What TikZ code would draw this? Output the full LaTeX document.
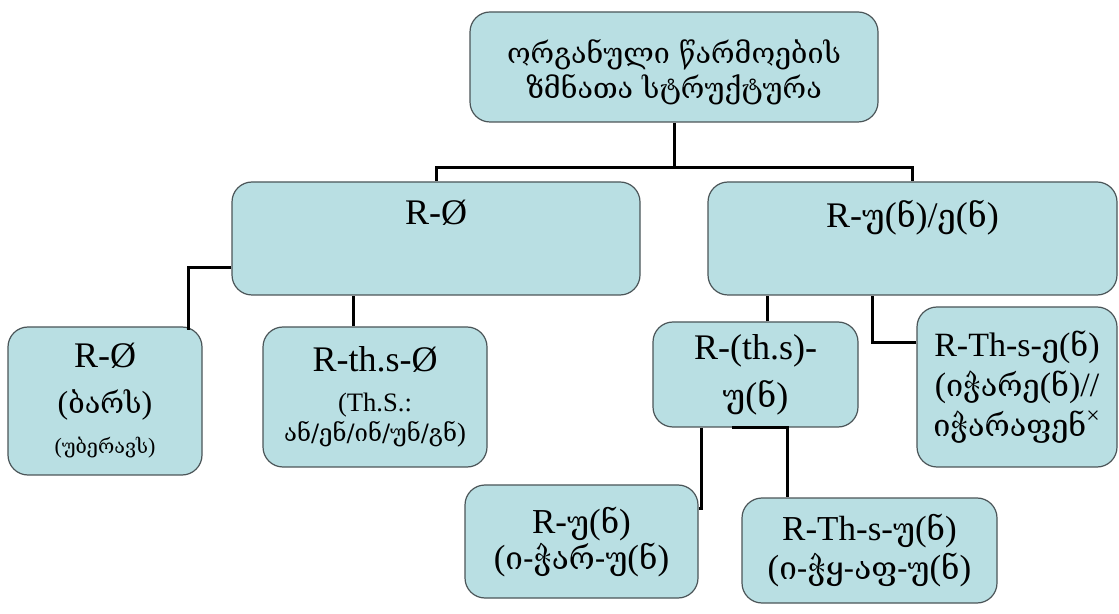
\documentclass[tikz,border=0pt]{standalone}
\usepackage{fontspec}
\setmainfont{Liberation Serif}
\newfontfamily\geofont[Scale=0.9]{DejaVu Serif}
\newcommand\ka[1]{{\geofont #1}}
\newcommand\fsz[2]{\fontsize{#1}{#2}\selectfont}
\definecolor{boxfill}{RGB}{185,223,227}
\definecolor{boxline}{RGB}{75,85,88}
\begin{document}
\begin{tikzpicture}[x=0.5pt,y=-0.5pt,
  box/.style={draw=boxline, line width=0.6pt, fill=boxfill, rounded corners=10pt,
    align=center, inner sep=0pt},
  conn/.style={draw=black, line width=1.5pt},
  big/.style={font=\fontsize{18}{22}\selectfont},
  mid/.style={font=\fontsize{17.5}{19.5}\selectfont}]
\useasboundingbox (0,0) rectangle (1119,614);
\node[box, minimum width=204pt, minimum height=55pt,
  label={[align=center, yshift=-2.5pt, font=\fsz{15.9}{17.5}]center:{\ka{ორგანული წარმოების}\\\ka{ზმნათა სტრუქტურა}}}] (top) at (674,67) {};
\node[box, minimum width=204pt, minimum height=56.5pt,
  label={[anchor=north, yshift=-6pt, big]north:R-Ø}] (RO) at (436,238.5) {};
\node[box, minimum width=204.5pt, minimum height=56.5pt,
  label={[anchor=north, yshift=-6pt, big]north:R-\ka{უ}(\ka{ნ})/\ka{ე}(\ka{ნ})}] (RU) at (912.5,238.5) {};
\node[box, minimum width=97pt, minimum height=74pt, font=\fsz{18}{23}] (A) at (105,401)
  {R-Ø\\\fsz{16}{23}(\ka{ბარს})\\[-3pt]\fsz{11}{13}(\ka{უბერავს})};
\node[box, minimum width=112pt, minimum height=70pt, font=\fsz{13.3}{15}] (B) at (375,397)
  {\fsz{18}{22}R-th.s-Ø\\[5pt]\fsz{13.3}{15}(Th.S.:\\\fsz{13.3}{15}\ka{ან/ენ/ინ/უნ/გნ})};
\node[box, minimum width=102.5pt, minimum height=52.5pt, font=\fsz{18}{24}] (C) at (755.5,374.5)
  {R-(th.s)-\\\ka{უ}(\ka{ნ})};
\node[box, minimum width=100pt, minimum height=80pt, mid, font=\fsz{17}{20}] (D) at (1017,387)
  {R-Th-s-\ka{ე}(\ka{ნ})\\(\ka{იჭარე}(\ka{ნ})//\\\ka{იჭარაფენ}\textsuperscript{×}};
\node[box, minimum width=116.5pt, minimum height=56.5pt, mid, font=\fsz{17.5}{18}] (E) at (581.5,541.5)
  {R-\ka{უ}(\ka{ნ})\\(\ka{ი-ჭარ-უ}(\ka{ნ})};
\node[box, minimum width=127.5pt, minimum height=52.5pt, mid] (F) at (869.5,550.5)
  {R-Th-s-\ka{უ}(\ka{ნ})\\(\ka{ი-ჭყ-აფ-უ}(\ka{ნ})};
% connectors
\draw[conn] (top.south) -- ([yshift=-22.5pt]top.south) -| (RO.north);
\draw[conn] ([yshift=-22.5pt]top.south) -| (RU.north);
\draw[conn] ([yshift=-14.75pt]RO.west) -| ([xshift=-7pt,yshift=-2pt]A.north east);
\draw[conn] ([xshift=-11pt]B.north) -- ([xshift=-11pt]B.north |- RO.south);
\draw[conn] ([xshift=5.75pt]C.north) -- ([xshift=5.75pt]C.north |- RU.south);
\draw[conn] ([yshift=22pt]D.west) -| ([xshift=-20.25pt]RU.south);
\draw[conn] ([xshift=-27.25pt]C.south) |- ([yshift=16.75pt]E.east);
\draw[conn] ([xshift=-11.75pt]C.south) -| ([xshift=-41.25pt]F.north);
\end{tikzpicture}
\end{document}
